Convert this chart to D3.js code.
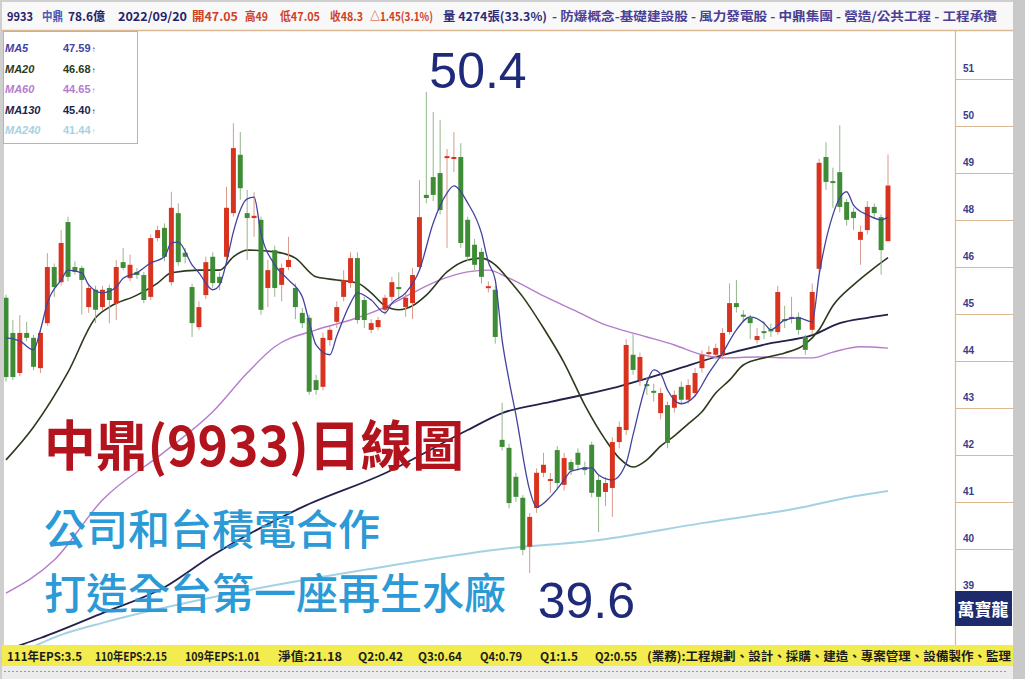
<!DOCTYPE html>
<html>
<head>
<meta charset="utf-8">
<script src="https://cdn.jsdelivr.net/npm/d3@7"></script>
<style>
  body { margin: 0; background: #cfcfcf; }
  svg { display: block; }
  text { font-family: "Liberation Sans", "Noto Sans CJK TC", sans-serif; }
  .cjk { font-family: "Noto Sans CJK TC", "Liberation Sans", sans-serif; }
</style>
</head>
<body>
<svg id="chart" width="1025" height="679"></svg>
<script>
// ---- daily OHLC, 中鼎 9933, oldest first (last bar = 2022/09/20) ----
const opens = [45.78,44.99,44.09,44.99,44.88,44.20,45.21,46.47,46.13,47.48,
  46.47,46.45,45.57,45.96,45.57,46.00,45.66,46.58,46.22,46.36,
  46.29,45.80,47.12,47.35,46.13,47.68,46.79,46.02,45.12,45.84,
  46.70,46.25,46.70,47.68,48.99,47.68,47.57,47.53,46.00,46.85,
  46.07,46.47,46.00,45.44,45.33,43.93,43.78,44.83,45.24,45.80,
  46.11,46.67,45.73,45.06,45.12,45.51,45.80,46.02,45.57,45.66,
  46.47,48.09,48.49,48.58,48.92,48.90,48.94,47.53,46.97,46.81,
  46.00,45.96,42.59,42.41,41.76,41.29,40.19,41.06,41.85,41.67,
  42.36,41.58,42.09,42.30,41.98,42.48,41.69,41.42,41.51,42.54,
  42.81,44.50,43.93,43.84,43.69,43.19,43.37,43.31,43.78,43.49,
  43.64,44.20,44.52,44.50,44.50,45.01,45.66,45.40,45.33,44.83,
  45.03,45.07,45.01,45.30,45.31,45.35,44.90,45.06,46.43,48.94,
  48.40,48.60,47.93,47.71,47.08,47.30,47.82,47.59,47.05];
const highs = [45.85,45.28,45.39,45.24,44.95,45.05,46.78,46.55,47.30,47.60,
  46.60,46.50,46.11,46.05,46.05,46.07,46.63,46.90,46.75,46.45,
  46.36,47.20,47.40,47.45,48.16,47.90,46.90,46.10,45.70,46.70,
  46.80,46.35,48.27,49.70,49.50,48.20,48.15,47.60,46.63,46.95,
  46.55,47.15,46.10,45.55,45.40,44.05,45.00,45.15,45.70,46.40,
  46.80,46.80,45.80,45.30,45.35,45.85,46.25,46.35,45.90,46.45,
  48.42,50.40,49.95,49.77,49.12,49.50,49.25,47.60,47.10,46.90,
  46.15,46.05,43.42,42.50,41.85,41.35,40.95,41.95,42.30,41.85,
  42.45,42.30,42.15,42.40,42.10,42.55,41.80,41.75,42.65,43.00,
  44.85,44.99,44.55,44.00,43.85,43.75,43.45,43.70,43.90,43.95,
  44.20,44.60,44.70,44.75,45.10,46.10,46.18,45.50,45.40,45.10,
  45.25,45.20,46.05,45.60,45.80,45.45,44.95,46.10,48.90,49.27,
  48.70,49.65,48.00,47.80,47.40,47.95,47.90,47.65,49.00];
const lows = [43.90,43.93,44.02,44.80,44.15,44.09,45.15,45.80,46.05,46.15,
  46.30,45.40,45.44,45.21,45.50,45.21,45.28,46.40,46.15,46.20,
  45.66,45.73,47.05,46.60,46.05,46.50,46.55,44.90,45.05,45.75,
  46.00,45.95,46.60,47.60,47.98,46.63,47.15,45.40,45.57,45.80,
  45.70,46.40,45.30,45.10,43.60,43.60,43.70,44.70,45.10,45.70,
  46.00,45.20,45.10,44.98,45.05,45.40,45.70,45.75,45.35,45.30,
  46.40,47.90,47.95,47.65,46.90,48.60,46.90,46.60,46.40,46.10,
  45.90,44.75,42.35,41.05,41.20,40.00,39.60,40.95,41.75,41.40,
  41.50,41.45,41.80,41.90,41.80,41.30,40.52,41.10,40.86,42.40,
  42.70,44.05,43.80,43.60,43.45,43.05,42.40,43.20,43.40,43.40,
  43.55,44.10,44.40,44.40,44.40,44.95,45.45,45.25,44.85,44.75,
  44.85,44.90,44.95,45.10,45.20,44.95,44.50,44.95,46.35,48.20,
  47.80,47.70,47.40,47.30,46.52,47.20,47.55,46.30,47.05];
const closes = [44.00,44.00,44.99,44.88,44.23,44.99,46.47,46.02,47.01,46.25,
  46.36,46.18,46.00,45.51,45.96,45.73,46.47,46.45,46.52,46.29,
  45.73,47.12,47.30,46.70,47.80,46.58,46.70,45.21,45.57,46.58,
  46.11,46.11,47.80,49.14,48.24,47.57,47.62,45.51,46.40,46.00,
  46.45,46.63,45.57,45.21,43.67,43.71,44.88,45.06,45.57,46.18,
  46.67,45.28,45.28,45.21,45.28,45.78,46.13,45.98,45.78,46.29,
  47.59,48.02,48.09,47.75,48.96,48.94,47.01,46.70,46.52,46.25,
  46.04,44.90,42.43,41.17,41.31,40.12,40.86,41.85,42.03,41.71,
  41.62,42.18,41.91,42.03,41.91,41.40,41.31,41.62,42.54,42.88,
  44.72,44.16,44.45,43.80,43.65,43.64,42.52,43.60,43.49,43.82,
  44.09,44.50,44.56,44.65,44.99,45.66,45.57,45.37,45.21,44.92,
  45.00,45.04,45.91,45.26,45.35,45.06,44.61,45.91,48.81,48.38,
  48.36,47.82,47.53,47.57,47.26,47.82,47.68,46.85,48.30];

// ---- moving averages, sampled at bar index ----
const ma5Idx = [0,2,4,5,6,8,9,11,12,14,16,17,19,21,23,24,25,27,28,30,31,32,33,35,36,37,39,41,43,44,
  45,47,48,50,51,53,55,56,58,60,62,64,65,67,69,70,71,72,73,74,76,77,79,81,82,85,86,88,90,91,
  93,94,95,96,98,100,102,104,106,108,110,111,113,115,117,118,120,121,122,123,125,127,128];
const ma5Val = [44.88,44.81,44.61,45.06,45.66,46.18,46.40,46.34,46.07,45.89,46.02,46.22,46.34,46.56,46.70,47.01,47.03,46.52,46.34,45.96,
  46.07,46.58,47.26,48.00,48.04,47.23,46.52,46.18,45.80,45.24,44.72,44.50,44.92,45.66,45.89,45.73,45.44,45.66,45.89,46.40,
  47.46,48.13,48.29,47.91,47.23,46.58,46.18,44.83,43.93,43.15,41.46,41.08,41.31,41.69,41.89,41.96,41.80,41.69,42.07,42.70,
  43.87,44.16,44.07,43.71,43.40,43.58,44.09,44.54,45.06,45.35,45.21,45.06,45.28,45.33,45.24,46.29,47.64,48.02,48.16,47.86,
  47.64,47.53,47.59];
const ma20Idx = [0,4,9,13,15,19,22,24,28,31,33,35,39,42,45,48,51,53,55,57,59,61,64,67,69,71,73,75,78,81,
  84,87,89,91,93,95,97,99,101,103,105,107,110,113,116,118,120,123,126,128];
const ma20Val = [42.14,42.88,44.11,45.33,45.57,45.84,46.11,46.34,46.40,46.40,46.70,46.85,46.81,46.67,46.25,46.18,46.11,45.89,45.60,45.51,
  45.60,45.84,46.36,46.63,46.67,46.52,46.18,45.80,45.10,44.32,43.37,42.59,42.18,41.98,42.14,42.45,42.68,42.95,43.22,43.64,
  43.93,44.27,44.43,44.54,44.74,45.06,45.60,46.07,46.45,46.68];
const ma60Idx = [0,7,14,23,30,35,39,45,50,55,59,63,67,70,73,78,83,87,90,93,97,101,104,109,114,117,120,124,128];
const ma60Val = [39.15,39.89,41.24,42.32,43.22,44.09,44.68,45.06,45.28,45.57,45.89,46.18,46.36,46.40,46.22,45.82,45.46,45.17,45.03,44.90,
  44.72,44.50,44.43,44.45,44.43,44.43,44.56,44.68,44.65];
const ma130Idx = [0,5,14,23,30,43,55,67,72,79,88,97,103,111,117,121,125,128];
const ma130Val = [37.87,38.14,38.70,39.28,40.00,41.08,41.84,42.81,43.19,43.44,43.75,44.16,44.45,44.76,44.94,45.21,45.33,45.40];
const ma240Idx = [0,8,14,33,52,72,86,101,115,122,128];
const ma240Val = [37.65,38.21,38.48,39.15,39.67,40.14,40.34,40.72,41.06,41.29,41.44];

// ---- legend / labels ----
const maNames  = ["MA5", "MA20", "MA60", "MA130", "MA240"];
const maLatest = ["47.59", "46.68", "44.65", "45.40", "41.44"];
const priceTickLabels = ["51","50","49","48","46","45","44","43","42","41","40","39"];
const periodHigh = 50.4, periodLow = 39.6;
const headerTexts = ["9933", "中鼎", "78.6億", "2022/09/20", "開47.05", "高49", "低47.05", "收48.3",
  "△1.45(3.1%)", "量 4274張(33.3%)", "- 防爆概念-基礎建設股 - 風力發電股 - 中鼎集團 - 營造/公共工程 - 工程承攬"];
const footerTexts = ["111年EPS:3.5", "110年EPS:2.15", "109年EPS:1.01", "淨值:21.18", "Q2:0.42", "Q3:0.64",
  "Q4:0.79", "Q1:1.5", "Q2:0.55", "(業務):工程規劃、設計、採購、建造、專案管理、設備製作、監理"];

// ---- drawing ----
const svg = d3.select("#chart");
const W = 1025, H = 679;
const plot = { left: 4, right: 955, top: 31, bottom: 645 };

const C = {
  up: "#d8331f", down: "#3e8c36", upWick: "#d99a8c", downWick: "#93b68c",
  ma: ["#43439f", "#2b3a1c", "#b57ccb", "#22224c", "#a5d2e3"],
  navy: "#1f2a7a", tan: "#d9b892"
};

// frame
svg.append("rect").attr("width", W).attr("height", H).attr("fill", "#cfcfcf");
svg.append("rect").attr("x", 2).attr("y", 2).attr("width", 1011).attr("height", 28).attr("fill", "#f8f8f8");
svg.append("rect").attr("x", plot.left).attr("y", plot.top).attr("width", 1013 - plot.left)
  .attr("height", plot.bottom - plot.top).attr("fill", "#ffffff");
svg.append("line").attr("x1", 2).attr("x2", 1013).attr("y1", 30.5).attr("y2", 30.5)
  .attr("stroke", C.tan).attr("stroke-width", 1.5);

// scales
const x = d3.scalePoint().domain(d3.range(opens.length)).range([6, 888]);
const y = d3.scaleLinear().domain([periodLow, periodHigh]).range([573, 92]);
const bodyW = x.step() * 0.72;

svg.append("defs").append("clipPath").attr("id", "plotClip")
  .append("rect").attr("x", plot.left).attr("y", plot.top)
  .attr("width", plot.right - plot.left).attr("height", plot.bottom - plot.top);
const g = svg.append("g").attr("clip-path", "url(#plotClip)");

// moving-average lines (long ones first, underneath)
const maSeries = [
  { idx: ma240Idx, val: ma240Val, c: C.ma[4], w: 2.0 },
  { idx: ma130Idx, val: ma130Val, c: C.ma[3], w: 1.8 },
  { idx: ma60Idx,  val: ma60Val,  c: C.ma[2], w: 1.4 },
  { idx: ma20Idx,  val: ma20Val,  c: C.ma[1], w: 1.6 },
];
const maLine = d3.line().x(d => x(d[0])).y(d => y(d[1])).curve(d3.curveMonotoneX);
maSeries.forEach(s => {
  g.append("path").datum(s.idx.map((v, k) => [v, s.val[k]]))
    .attr("d", maLine).attr("fill", "none").attr("stroke", s.c).attr("stroke-width", s.w);
});

// candles
const bars = d3.range(opens.length).map(i => ({ i, o: opens[i], h: highs[i], l: lows[i], c: closes[i] }));
const cg = g.append("g");
cg.selectAll("line.wick").data(bars).join("line").attr("class", "wick")
  .attr("x1", d => x(d.i)).attr("x2", d => x(d.i))
  .attr("y1", d => y(d.h)).attr("y2", d => y(d.l))
  .attr("stroke", d => d.c >= d.o ? C.upWick : C.downWick).attr("stroke-width", 1);
cg.selectAll("rect.body").data(bars).join("rect").attr("class", "body")
  .attr("x", d => x(d.i) - bodyW / 2).attr("width", bodyW)
  .attr("y", d => y(Math.max(d.o, d.c)))
  .attr("height", d => Math.max(2, Math.abs(y(d.o) - y(d.c))))
  .attr("fill", d => d.c >= d.o ? C.up : C.down);

// MA5 on top
g.append("path").datum(ma5Idx.map((v, k) => [v, ma5Val[k]]))
  .attr("d", maLine).attr("fill", "none").attr("stroke", C.ma[0]).attr("stroke-width", 1.3);

// right price panel
svg.append("line").attr("x1", plot.right + 0.5).attr("x2", plot.right + 0.5)
  .attr("y1", plot.top).attr("y2", plot.bottom).attr("stroke", C.tan).attr("stroke-width", 1.2);
const tickPos = d3.scalePoint().domain(priceTickLabels).range([68, 585]);
const axisG = svg.append("g");
axisG.selectAll("line").data(priceTickLabels.slice(0, -1)).join("line")
  .attr("x1", plot.right).attr("x2", 1013)
  .attr("y1", d => tickPos(d) + 11.5).attr("y2", d => tickPos(d) + 11.5)
  .attr("stroke", C.tan).attr("stroke-width", 1);
axisG.selectAll("text").data(priceTickLabels).join("text")
  .attr("x", 963).attr("y", d => tickPos(d) + 4)
  .attr("font-size", 10).attr("font-weight", "bold").attr("fill", "#3b3b8b")
  .text(d => d);

// brand box
svg.append("rect").attr("x", plot.right).attr("y", 591).attr("width", 57).attr("height", 35).attr("fill", "#1d2a6b");
svg.append("text").attr("class", "cjk").attr("x", 983).attr("y", 616).attr("text-anchor", "middle")
  .attr("font-size", 17).attr("font-weight", "bold").attr("fill", "#ffffff").text("萬寶龍");

// right edge
svg.append("rect").attr("x", 1013).attr("y", 0).attr("width", 12).attr("height", H).attr("fill", "#c9c9c9");

// legend box
svg.append("rect").attr("x", 3.5).attr("y", 31.5).attr("width", 134).attr("height", 112)
  .attr("fill", "#ffffff").attr("stroke", "#b4b4b4");
const lg = svg.append("g");
maNames.forEach((n, k) => {
  const by = 52 + k * 20.5;
  lg.append("text").attr("x", 5).attr("y", by).attr("font-size", 11).attr("font-weight", "bold")
    .attr("font-style", "italic").attr("fill", C.ma[k]).text(n);
  const t = lg.append("text").attr("x", 63).attr("y", by).attr("font-size", 11).attr("font-weight", "bold")
    .attr("fill", C.ma[k]).text(maLatest[k]);
  t.append("tspan").attr("font-size", 8).attr("dx", 1).text("↑");
});

// header line
const headerX = [7, 42, 68, 118, 192, 245, 280, 330, 370, 443, 552];
const headerW = [26, 21, 37, 69, 46, 23, 40, 33, 63, 104, 445];
const headerFill = ["#23236b", "#4b59b3", "#23236b", "#23236b", "#cf4126", "#cf4126", "#cf4126", "#cf4126",
  "#cf4126", "#2b2b78", "#4b3f95"];
headerTexts.forEach((t, k) => {
  svg.append("text").attr("class", "cjk").attr("x", headerX[k]).attr("y", 21)
    .attr("font-size", 12).attr("font-weight", "bold").attr("fill", headerFill[k])
    .attr("textLength", headerW[k]).attr("lengthAdjust", "spacingAndGlyphs").text(t);
});

// footer bar
svg.append("rect").attr("x", 2).attr("y", 645).attr("width", 1011).attr("height", 21).attr("fill", "#f3ec4e");
svg.append("rect").attr("x", 2).attr("y", 666).attr("width", 1011).attr("height", 13).attr("fill", "#ececec");
svg.append("line").attr("x1", 4).attr("x2", 1008).attr("y1", 671.5).attr("y2", 671.5)
  .attr("stroke", "#9a9a9a").attr("stroke-dasharray", "2,2");
const footX = [7, 95, 185, 278, 358, 418, 480, 540, 595, 647];
const footW = [75, 72, 75, 64, 45, 44, 42, 38, 42, 364];
footerTexts.forEach((t, k) => {
  svg.append("text").attr("class", "cjk").attr("x", footX[k]).attr("y", 661)
    .attr("font-size", 12).attr("font-weight", "bold").attr("fill", "#1c1c1c")
    .attr("textLength", footW[k]).attr("lengthAdjust", "spacingAndGlyphs").text(t);
});

// high / low call-outs
const iHigh = highs.indexOf(periodHigh), iLow = lows.indexOf(periodLow);
svg.append("text").attr("x", x(iHigh) + 3).attr("y", y(periodHigh) - 4)
  .attr("font-size", 50).attr("fill", C.navy).text(periodHigh.toFixed(1));
svg.append("text").attr("x", x(iLow) + 8).attr("y", y(periodLow) + 45)
  .attr("font-size", 50).attr("fill", C.navy).text(periodLow.toFixed(1));

// headline
svg.append("text").attr("class", "cjk").attr("x", 44).attr("y", 466)
  .attr("font-size", 54).attr("font-weight", "bold").attr("fill", "#b3131d")
  .attr("textLength", 420).attr("lengthAdjust", "spacingAndGlyphs").text("中鼎(9933)日線圖");
svg.append("text").attr("class", "cjk").attr("x", 44).attr("y", 545)
  .attr("font-size", 42).attr("font-weight", 500).attr("fill", "#2b9ad6").text("公司和台積電合作");
svg.append("text").attr("class", "cjk").attr("x", 44).attr("y", 609)
  .attr("font-size", 42).attr("font-weight", 500).attr("fill", "#2b9ad6").text("打造全台第一座再生水廠");
</script>
</body>
</html>
